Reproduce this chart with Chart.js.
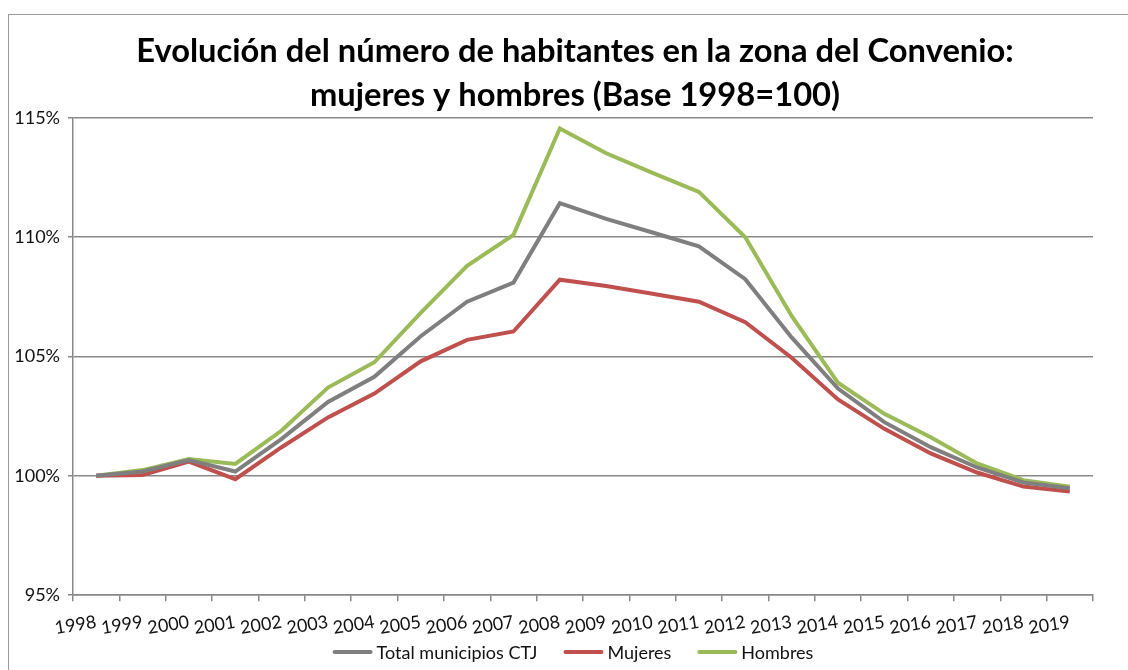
<!DOCTYPE html>
<html>
<head>
<meta charset="utf-8">
<script src="https://cdn.jsdelivr.net/npm/chart.js@4"></script>
<style>
    body { margin: 0; background: #fff; overflow: hidden; }
    #frame { position: absolute; left: 8px; top: 14px; width: 1200px; height: 720px; border: 1.5px solid #9a9a9a; }
    #wrap { position: absolute; left: 0; top: 0; width: 1128px; height: 670px; }
</style>
</head>
<body>
<div id="frame"></div>
<div id="wrap"><canvas id="evolucionChart" width="1128" height="670"></canvas></div>
<script>
const years = ['1998', '1999', '2000', '2001', '2002', '2003', '2004', '2005', '2006', '2007', '2008',
    '2009', '2010', '2011', '2012', '2013', '2014', '2015', '2016', '2017', '2018', '2019'];

const totalValues = [100, 100.18, 100.66, 100.18, 101.55, 103.1, 104.15, 105.85, 107.3, 108.1, 111.43,
    110.77, 110.2, 109.62, 108.24, 105.8, 103.66, 102.25, 101.2, 100.35, 99.72, 99.48];
const mujeresValues = [100, 100.04, 100.6, 99.86, 101.2, 102.45, 103.45, 104.8, 105.7, 106.05, 108.22,
    107.96, 107.63, 107.3, 106.44, 104.95, 103.2, 101.97, 100.94, 100.14, 99.55, 99.34];
const hombresValues = [100, 100.24, 100.7, 100.5, 101.9, 103.7, 104.76, 106.83, 108.8, 110.1, 114.56,
    113.52, 112.7, 111.9, 110.0, 106.7, 103.9, 102.6, 101.62, 100.52, 99.82, 99.54];

const yTicks = [95, 100, 105, 110, 115];

const titleLines = ['Evolución del número de habitantes en la zona del Convenio:', 'mujeres y hombres (Base 1998=100)'];

const FONT = 'Lato, "Liberation Sans", sans-serif';
const TITLE_SIZE = 32.7;
const TITLE_LH = 1.36;
const LEGEND_SIZE = 18;

// the title box keeps its room in the layout; the text itself is drawn centred on the frame
const centredTitle = {
    id: 'centredTitle',
    afterDraw(chart) {
        const block = chart.titleBlock;
        if (!block) return;
        const c = chart.ctx;
        c.save();
        c.fillStyle = '#000';
        c.font = 'bold ' + TITLE_SIZE + 'px ' + FONT;
        c.textAlign = 'center';
        c.textBaseline = 'middle';
        const lh = TITLE_SIZE * TITLE_LH;
        titleLines.forEach((line, i) => {
            c.fillText(line, 575, block.top + lh * (i + 0.5));
        });
        c.restore();
    }
};

// Excel-style legend: short thick line, tight text, wide gaps between entries
const bottomLegend = {
    id: 'bottomLegend',
    afterDraw(chart) {
        const c = chart.ctx;
        const lineLen = 40, textGap = 4, itemGap = 26;
        c.save();
        c.font = LEGEND_SIZE + 'px ' + FONT;
        c.textBaseline = 'middle';
        const items = chart.data.datasets.map(ds => ({
            text: ds.label, color: ds.borderColor, w: lineLen + textGap + c.measureText(ds.label).width
        }));
        const total = items.reduce((s, it) => s + it.w, 0) + itemGap * (items.length - 1);
        let x = 573 - total / 2;
        const y = 652;
        items.forEach(it => {
            c.strokeStyle = it.color;
            c.lineWidth = 4;
            c.lineCap = 'round';
            c.beginPath();
            c.moveTo(x + 2, y);
            c.lineTo(x + lineLen - 2, y);
            c.stroke();
            c.fillStyle = '#111';
            c.fillText(it.text, x + lineLen + textGap, y + 1);
            x += it.w + itemGap;
        });
        c.restore();
    }
};

function renderEvolucionChart() {
    const canvas = document.getElementById('evolucionChart');
    if (!canvas) return;

    const ctx = canvas.getContext('2d');
    new Chart(ctx, {
        type: 'line',
        data: {
            labels: years,
            datasets: [
                { label: 'Total municipios CTJ', data: totalValues, borderColor: '#7f7f7f', backgroundColor: '#7f7f7f', borderWidth: 4 },
                { label: 'Mujeres', data: mujeresValues, borderColor: '#c0504d', backgroundColor: '#c0504d', borderWidth: 4 },
                { label: 'Hombres', data: hombresValues, borderColor: '#9bbb59', backgroundColor: '#9bbb59', borderWidth: 4 }
            ]
        },
        options: {
            responsive: false,
            animation: false,
            elements: {
                line: { tension: 0 },
                point: { radius: 0, hoverRadius: 0 }
            },
            layout: { padding: { left: 8, right: 35, top: 29, bottom: 21 } },
            scales: {
                x: {
                    offset: true,
                    grid: { offset: true, drawOnChartArea: false, drawTicks: true, tickLength: 6, color: '#888', lineWidth: 1.5 },
                    border: { color: '#888', width: 1.5 },
                    ticks: {
                        color: '#111',
                        font: { family: FONT, size: 18 },
                        minRotation: 9,
                        maxRotation: 9,
                        autoSkip: false,
                        padding: 10
                    }
                },
                y: {
                    min: 95,
                    max: 115,
                    afterBuildTicks: scale => { scale.ticks = yTicks.map(v => ({ value: v })); },
                    afterFit: scale => { scale.width = 65; },
                    grid: { color: '#888', lineWidth: 1.5, tickLength: 5 },
                    border: { color: '#888', width: 1.5 },
                    ticks: {
                        color: '#111',
                        font: { family: FONT, size: 18 },
                        padding: 8,
                        callback: v => v + '%'
                    }
                }
            },
            plugins: {
                title: {
                    display: true,
                    text: titleLines,
                    color: 'rgba(0,0,0,0)',
                    font: { family: FONT, size: TITLE_SIZE, weight: 'bold', lineHeight: TITLE_LH },
                    padding: { top: 0, bottom: 0 }
                },
                legend: { display: false },
                tooltip: { enabled: false }
            }
        },
        plugins: [centredTitle, bottomLegend]
    });
}

renderEvolucionChart();
</script>
</body>
</html>
